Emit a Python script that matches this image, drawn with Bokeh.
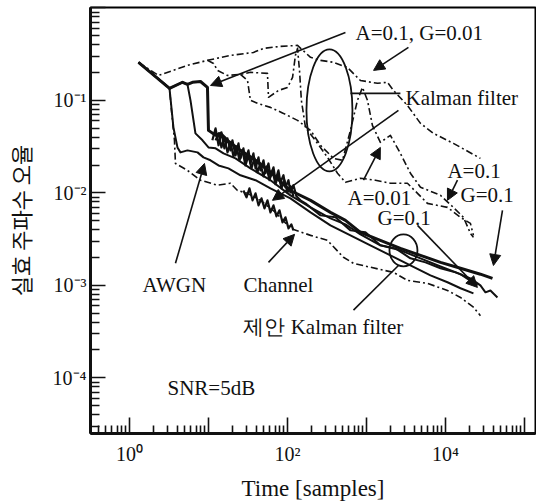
from bokeh.plotting import figure
from bokeh.models import FixedTicker, CustomJSTickFormatter, Arrow, NormalHead, Range1d
from bokeh.core.properties import value
from bokeh.embed import file_html
from bokeh.resources import INLINE

# ---------------- data ----------------
# dash-dot curves
dd1_x = [1.30, 2.33, 5.42, 9.71, 19.0, 37.1, 49.7, 81.5, 134, 196, 262, 382, 575, 839, 1380, 1840, 2200, 3300, 4830, 7050, 12600, 27700]
dd1_y = [0.258, 0.186, 0.239, 0.271, 0.306, 0.330, 0.365, 0.384, 0.393, 0.292, 0.271, 0.258, 0.227, 0.164, 0.153, 0.157, 0.128, 0.0883, 0.0564, 0.0440, 0.0343, 0.0236]

dd2_x = [9.71, 11.6, 13.0, 17.4, 25.4, 34.0, 55.8, 57.5, 76.9, 100, 116, 126, 134, 142, 150, 169, 240, 321, 430, 542, 839, 1300, 2010, 3300, 4430, 5920, 10600, 15500, 20700, 22600]
dd2_y = [0.271, 0.251, 0.211, 0.186, 0.191, 0.201, 0.196, 0.108, 0.128, 0.138, 0.177, 0.306, 0.365, 0.211, 0.100, 0.0511, 0.0343, 0.0242, 0.0163, 0.0130, 0.0144, 0.0137, 0.0127, 0.0127, 0.00988, 0.00770, 0.00697, 0.00544, 0.00468, 0.00347]

dd3_x = [25.4, 31.2, 34.0, 41.7, 60.9, 89.0, 134, 196, 262, 382, 497, 627, 769, 890, 1030, 1190, 1500, 2010, 2690, 3600, 4830, 8650, 12600, 16900, 20700, 22600]
dd3_y = [0.191, 0.164, 0.100, 0.0929, 0.0840, 0.0723, 0.0608, 0.0474, 0.0327, 0.0236, 0.0225, 0.0474, 0.100, 0.138, 0.100, 0.0537, 0.0352, 0.0419, 0.0267, 0.0163, 0.0115, 0.0094, 0.00697, 0.00544, 0.00365, 0.0033]

ddl_x = [1.30, 3.21, 3.40, 3.71, 3.82, 5.42, 7.92, 13.0, 19.0, 23.3, 31.2, 45.5, 70.5, 109, 196, 321, 511, 685, 1120, 2200, 3300, 5920, 10600, 15500, 22600, 27700]
ddl_y = [0.258, 0.135, 0.078, 0.037, 0.0208, 0.0175, 0.0137, 0.0121, 0.0127, 0.0106, 0.00988, 0.0083, 0.00615, 0.00413, 0.00347, 0.00306, 0.00201, 0.00173, 0.00157, 0.00138, 0.00113, 0.00105, 0.00088, 0.00074, 0.00058, 0.00047]

# solid curves
s1_x = [1.30, 3.21, 3.60, 4.05, 4.42, 5.42, 7.26, 8.65, 10.6, 13.4, 17.9, 25.4, 39.4, 60.9, 109, 196, 350, 627, 1120, 2010, 3600, 6460, 10600, 15500, 22600]
s1_y = [0.258, 0.135, 0.0511, 0.0310, 0.0274, 0.0288, 0.0274, 0.0242, 0.0225, 0.0198, 0.0184, 0.0155, 0.0137, 0.0112, 0.00873, 0.00615, 0.00445, 0.00347, 0.00271, 0.00211, 0.00164, 0.00128, 0.00108, 0.00093, 0.00082]

s2_x = [1.30, 3.21, 4.69, 5.42, 5.92, 6.84, 8.40, 10.0, 12.3, 15.5, 22.0, 34.0, 60.9, 109, 196, 350, 542, 839, 1500, 2690, 4830, 8650, 15500, 25400]
s2_y = [0.258, 0.135, 0.157, 0.149, 0.100, 0.0440, 0.0370, 0.0310, 0.0303, 0.0267, 0.0236, 0.0184, 0.0137, 0.0094, 0.00697, 0.0053, 0.00456, 0.00356, 0.00271, 0.00239, 0.00196, 0.0016, 0.00132, 0.00100]

s3_x = [1.30, 3.21, 4.69, 5.42, 6.27, 7.92, 9.71, 10.0, 12.3, 14.2, 17.4, 25.4, 39.4, 60.9, 109, 196, 350, 542, 839, 1500, 2690, 4830, 8650, 15500, 27700, 39400]
s3_y = [0.258, 0.135, 0.157, 0.149, 0.157, 0.160, 0.138, 0.0474, 0.0419, 0.0440, 0.0370, 0.0288, 0.0225, 0.0167, 0.0106, 0.0083, 0.00615, 0.00504, 0.00374, 0.00306, 0.00251, 0.00211, 0.00177, 0.00153, 0.00132, 0.00119]

s4_x = [146, 169, 262, 405, 627, 971, 1500, 2330, 3600, 5580, 8650, 13400, 20700, 27700, 32100, 37100, 45500]
s4_y = [0.0083, 0.0077, 0.00571, 0.00544, 0.00393, 0.00374, 0.00271, 0.00251, 0.00196, 0.00177, 0.00153, 0.00138, 0.00119, 0.00100, 0.00084, 0.00088, 0.00074]

# noisy (jagged) parts
n1_x = [11.2, 12.3, 13.4, 14.6, 15.9, 17.4, 19.0, 20.1, 22.0, 24.0, 25.4, 27.7, 29.4, 32.1, 34.0, 37.1, 39.4, 43.0, 45.5, 49.7, 52.7, 57.5, 60.9, 66.5, 70.5, 76.9, 81.5, 89.0, 94.3, 103, 109, 119, 130, 146]
n1_y = [0.0370, 0.0498, 0.0327, 0.0451, 0.0303, 0.0388, 0.0288, 0.0370, 0.0254, 0.0343, 0.0236, 0.0303, 0.0225, 0.0288, 0.0208, 0.0267, 0.0184, 0.0242, 0.0175, 0.0225, 0.0163, 0.0208, 0.0151, 0.0189, 0.0137, 0.0175, 0.0130, 0.0155, 0.0115, 0.0137, 0.0101, 0.0121, 0.00917, 0.0083]

n2_x = [12.3, 13.4, 14.6, 15.9, 17.4, 19.0, 20.7, 22.6, 24.7, 26.9, 29.4, 32.1, 35.0, 38.2, 41.7, 45.5, 49.7, 54.2, 59.2, 64.6, 70.5, 76.9, 84.0, 91.6, 99.8, 109, 119]
n2_y = [0.0370, 0.0440, 0.0310, 0.0398, 0.0274, 0.0352, 0.0248, 0.0318, 0.0225, 0.0288, 0.0198, 0.0254, 0.0184, 0.0236, 0.0167, 0.0208, 0.0151, 0.0193, 0.0137, 0.0175, 0.0124, 0.0155, 0.0112, 0.0137, 0.0101, 0.0118, 0.00917]

ch_x = [27.7, 30.3, 33.0, 36.1, 39.4, 43.0, 46.9, 51.2, 55.8, 60.9, 66.5, 72.6, 79.2, 86.4, 94.3, 103, 112, 119]
ch_y = [0.0106, 0.00894, 0.0112, 0.0083, 0.00988, 0.00733, 0.00873, 0.0068, 0.0083, 0.00615, 0.00733, 0.00557, 0.00647, 0.0048, 0.00544, 0.00413, 0.00457, 0.00393]

# annotations
arrow_x0 = [3.82, 57.5, 542, 3400, 2540, 916, 14200, 52700, 4430]
arrow_y0 = [0.00173, 0.00177, 0.543, 0.374, 0.078, 0.0137, 0.0137, 0.00647, 0.00445]
arrow_x1 = [8.90, 123, 10.6, 1230, 64.6, 1500, 10600, 40500, 25400]
arrow_y1 = [0.0208, 0.00356, 0.145, 0.211, 0.0083, 0.031, 0.0083, 0.00164, 0.00095]

seg_x0 = [627, 685]
seg_y0 = [0.119, 0.00054]
seg_x1 = [2690, 2540]
seg_y1 = [0.119, 0.00164]

ell_x = [340, 2940]
ell_y = [0.078, 0.00239]
ell_w = [46, 28]
ell_h = [122, 32]

label_text = ["A=0.1, G=0.01", "Kalman filter", "A=0.1", "G=0.1", "A=0.01", "G=0.1",
              "AWGN", "Channel", "제안 Kalman filter", "SNR=5dB"]
label_x = [726, 3120, 10600, 15500, 575, 1380, 1.46, 27.7, 27.7, 3.03]
label_y = [0.53, 0.105, 0.0171, 0.0094, 0.00873, 0.0053, 0.00100, 0.00101, 0.000352, 7.7e-5]

x_tick_exps = [0, 2, 4]
x_tick_labels = ["10⁰", "10²", "10⁴"]
y_tick_exps = [-1, -2, -3, -4]
y_tick_labels = ["10⁻¹", "10⁻²", "10⁻³", "10⁻⁴"]

# ---------------- figure ----------------
p = figure(width=536, height=503, x_axis_type="log", y_axis_type="log",
           x_range=Range1d(0.321, 138000), y_range=Range1d(2.5e-5, 1.01),
           output_backend="svg", toolbar_location=None, title=None,
           min_border_left=90, min_border_right=1, min_border_top=7, min_border_bottom=70)
p.grid.visible = False
p.outline_line_color = "black"
p.outline_line_width = 2
p.background_fill_color = "white"

serif = "Liberation Serif"
black = "#111111"

lines_dd = [(dd1_x, dd1_y), (dd2_x, dd2_y), (dd3_x, dd3_y), (ddl_x, ddl_y)]
for xs, ys in lines_dd:
    p.line(xs, ys, line_color=black, line_width=1.6, line_dash="7 3 2 3", line_join="round")

p.line(s1_x, s1_y, line_color=black, line_width=2, line_join="round")
p.line(s2_x, s2_y, line_color=black, line_width=2, line_join="round")
p.line(s3_x, s3_y, line_color=black, line_width=3, line_join="round")
p.line(s4_x, s4_y, line_color=black, line_width=2, line_join="round")
p.line(n1_x, n1_y, line_color=black, line_width=2.2, line_join="round")
p.line(n2_x, n2_y, line_color=black, line_width=2.2, line_join="round")
p.line(ch_x, ch_y, line_color=black, line_width=2.2, line_join="round")

for xa, ya, xb, yb in zip(arrow_x0, arrow_y0, arrow_x1, arrow_y1):
    p.add_layout(Arrow(x_start=xa, y_start=ya, x_end=xb, y_end=yb, line_width=1.6, line_color=black,
                       end=NormalHead(size=11, fill_color=black, line_color=black)))
p.segment(seg_x0, seg_y0, seg_x1, seg_y1, line_color=black, line_width=1.6)

p.ellipse(x=ell_x, y=ell_y, width=ell_w, height=ell_h, width_units="screen", height_units="screen",
          fill_color=None, line_color=black, line_width=1.8)

p.text(x=label_x, y=label_y, text=label_text, text_font=value(serif), text_font_size="21px",
       text_align="left", text_baseline="middle", text_color=black)

# axes
x_minor = [m * 10.0 ** k for k in range(-1, 6) for m in range(2, 10)]
y_minor = [m * 10.0 ** k for k in range(-5, 0) for m in range(2, 10)]
p.xaxis.ticker = FixedTicker(ticks=[10.0 ** k for k in range(0, 6)], minor_ticks=x_minor)
p.yaxis.ticker = FixedTicker(ticks=[10.0 ** k for k in range(-4, 1)], minor_ticks=y_minor)
p.xaxis.formatter = CustomJSTickFormatter(args=dict(exps=x_tick_exps, labs=x_tick_labels),
    code="const e = Math.round(Math.log10(tick)); const i = exps.indexOf(e); return i >= 0 ? labs[i] : '';")
p.yaxis.formatter = CustomJSTickFormatter(args=dict(exps=y_tick_exps, labs=y_tick_labels),
    code="const e = Math.round(Math.log10(tick)); const i = exps.indexOf(e); return i >= 0 ? labs[i] : '';")

for ax in (p.xaxis[0], p.yaxis[0]):
    ax.axis_line_width = 3
    ax.axis_line_color = black
    ax.major_tick_out = 0
    ax.minor_tick_out = 0
    ax.major_tick_line_width = 1.6
    ax.minor_tick_line_width = 1.6
    ax.major_tick_line_color = black
    ax.minor_tick_line_color = black
    ax.major_label_text_font = serif
    ax.major_label_text_font_size = "20px"
    ax.major_label_text_color = black
    ax.axis_label_text_font_style = "normal"
    ax.axis_label_text_color = black

p.xaxis.major_tick_in = 16
p.xaxis.minor_tick_in = 8
p.yaxis.major_tick_in = 15
p.yaxis.minor_tick_in = 9
p.xaxis.major_label_standoff = 9
p.yaxis.major_label_standoff = 4

p.xaxis.axis_label = "Time [samples]"
p.xaxis.axis_label_text_font = serif
p.xaxis.axis_label_text_font_size = "23px"
p.xaxis.axis_label_standoff = 8

p.yaxis.axis_label = "실효 주파수 오율"
p.yaxis.axis_label_text_font = "Noto Sans CJK KR"
p.yaxis.axis_label_text_font_size = "22px"
p.yaxis.axis_label_standoff = 14

open("out.html", "w").write(file_html(p, INLINE))
